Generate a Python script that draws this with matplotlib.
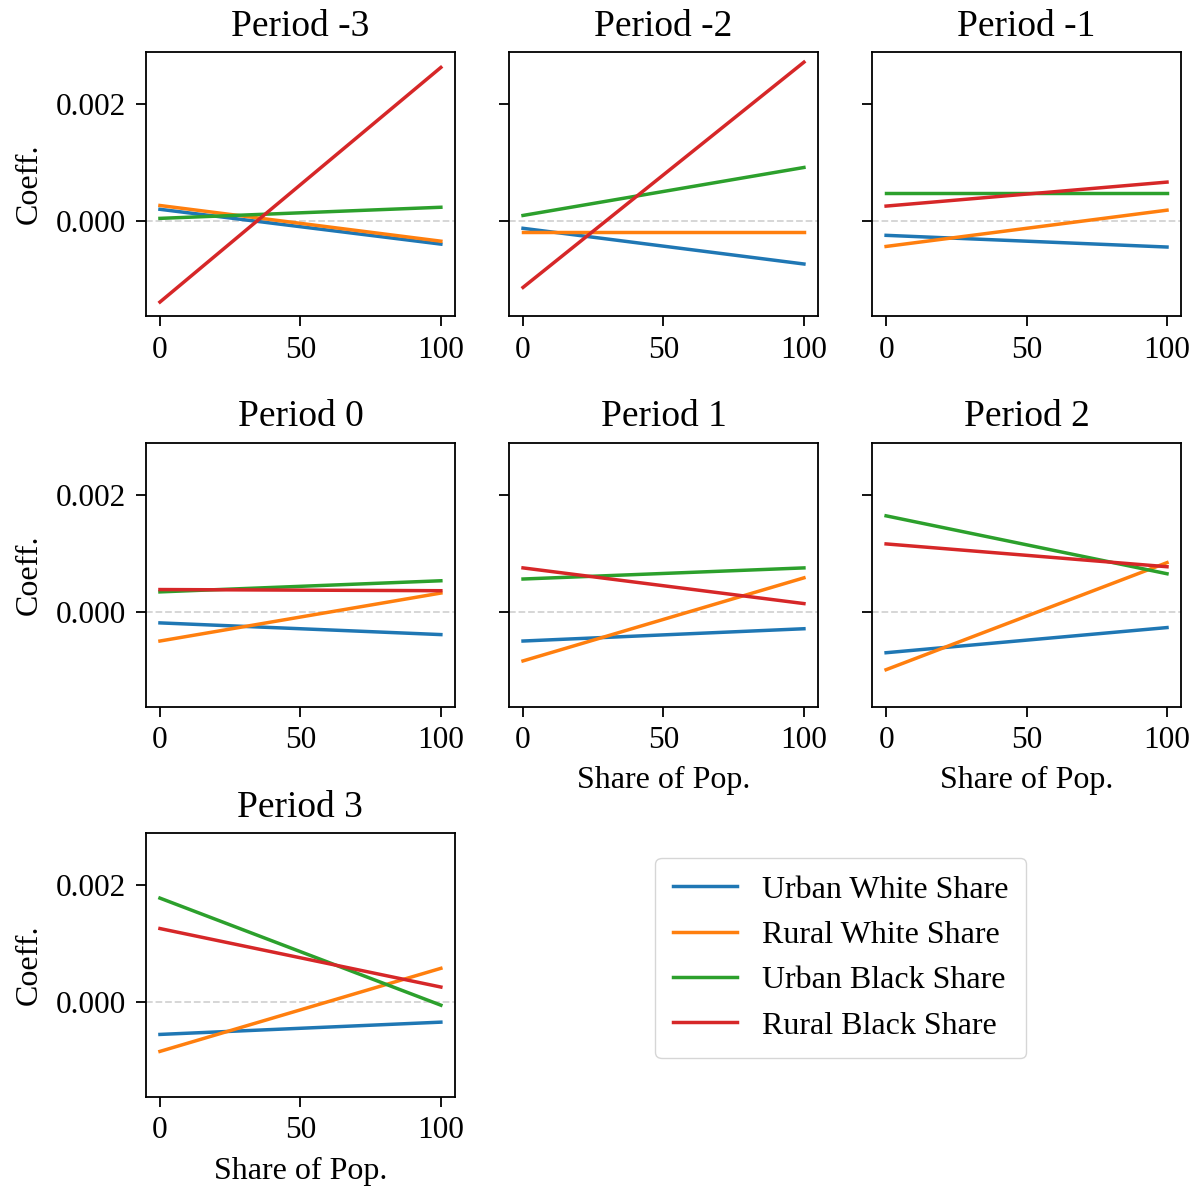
import matplotlib
matplotlib.use('Agg')
import matplotlib.pyplot as plt

plt.rcParams['font.family'] = ['Liberation Serif', 'DejaVu Serif']
plt.rcParams['mathtext.fontset'] = 'stix'

# x positions (share of population, %)
share = [0, 100]

periods = ['Period -3', 'Period -2', 'Period -1', 'Period 0', 'Period 1', 'Period 2', 'Period 3']
series_names = ['Urban White Share', 'Rural White Share', 'Urban Black Share', 'Rural Black Share']
series_colors = ['#1f77b4', '#ff7f0e', '#2ca02c', '#d62728']

# coefficient at share=0 and share=100, one pair per period
urban_white = [(0.000205, -0.00039), (-0.00012, -0.00073), (-0.00024, -0.00044), (-0.00019, -0.00039),
               (-0.00050, -0.00029), (-0.00070, -0.00027), (-0.00055, -0.00034)]
rural_white = [(0.00027, -0.00034), (-0.00019, -0.00019), (-0.00043, 0.00019), (-0.00050, 0.00032),
               (-0.00084, 0.00058), (-0.00099, 0.00084), (-0.00084, 0.00058)]
urban_black = [(0.00005, 0.00024), (0.00010, 0.00092), (0.00048, 0.00048), (0.00034, 0.00053),
               (0.00056, 0.00075), (0.00164, 0.00065), (0.00178, -0.00005)]
rural_black = [(-0.00138, 0.00263), (-0.00113, 0.00272), (0.00026, 0.00067), (0.00038, 0.00036),
               (0.00075, 0.00014), (0.00116, 0.00077), (0.00126, 0.00026)]

yticks = [0.0, 0.002]

fig, axes = plt.subplots(3, 3, figsize=(11.96, 11.87), dpi=100, sharey=True)
plt.subplots_adjust(left=0.122, right=0.9875, top=0.956, bottom=0.0758, wspace=0.175, hspace=0.48)

all_series = [urban_white, rural_white, urban_black, rural_black]
handles = []
for i, title in enumerate(periods):
    ax = axes.flat[i]
    ax.axhline(0, color='lightgrey', linestyle='--', linewidth=1.3, zorder=1)
    for s, name, col in zip(all_series, series_names, series_colors):
        ln, = ax.plot(share, list(s[i]), color=col, linewidth=2.5, label=name, zorder=2)
        if i == 0:
            handles.append(ln)
    ax.set_title(title, fontsize=27, pad=12)
    ax.set_xticks([0, 50, 100])
    ax.set_yticks(yticks)
    ax.yaxis.set_major_formatter(matplotlib.ticker.FormatStrFormatter('%.3f'))
    ax.tick_params(labelsize=22.5, width=1.3, length=7, pad=7)
    for sp in ax.spines.values():
        sp.set_linewidth(1.3)
    if i % 3 == 0:
        ax.set_ylabel('Coeff.', fontsize=23, labelpad=9)
    if i >= 4:
        ax.set_xlabel('Share of Pop.', fontsize=23, labelpad=8)

axes.flat[0].set_ylim(-0.00162, 0.00289)
axes.flat[7].axis('off')
axes.flat[8].axis('off')

fig.legend(handles=handles, loc='center', bbox_to_anchor=(0.703, 0.193), fontsize=23,
           handlelength=2.0, borderpad=0.55, labelspacing=0.5, handletextpad=0.8)

fig.savefig('out.png', dpi=100)
